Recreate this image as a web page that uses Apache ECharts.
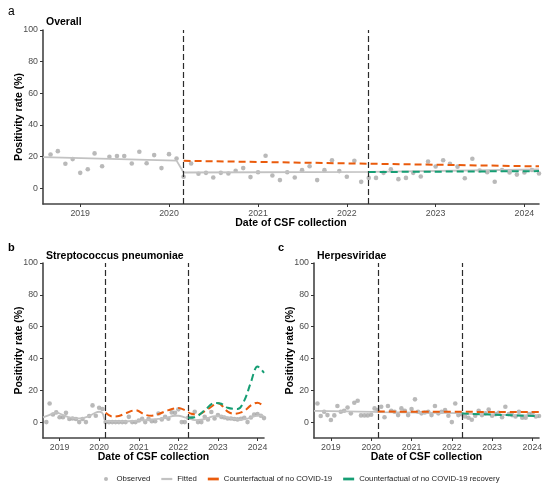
<!DOCTYPE html>
<html>
<head>
<meta charset="utf-8">
<script src="https://cdn.jsdelivr.net/npm/echarts@6/dist/echarts.min.js"></script>
<style>html,body{margin:0;padding:0;background:#fff;}#c{width:550px;height:485px;}</style>
</head>
<body>
<div id="c"></div>
<script>
// ---- data ----
const axisStart = '2018-08';
const axisEnd = '2024-03';
const interventions = ['2020-03', '2022-04'];
const yearTicks = [2019, 2020, 2021, 2022, 2023, 2024];
const yTicks = [0, 20, 40, 60, 80, 100];

// monthly observation dates 2018-09 .. 2024-03
const obsMonths = [];
for (let y = 2018, m = 9; ; m++) {
  if (m > 12) { m = 1; y++; }
  obsMonths.push(y + '-' + String(m).padStart(2, '0'));
  if (y === 2024 && m === 3) break;
}

const obsOverall = [
  21.3, 23.4, 15.4, 18.4,
  9.7, 12.0, 22.0, 13.9, 19.8, 20.3, 20.3, 15.6, 23.0, 15.8, 20.9, 12.7,
  21.5, 18.8, 7.2, 15.6, 9.1, 9.7, 6.8, 9.7, 9.3, 11.0, 12.7, 7.0,
  10.1, 20.5, 8.0, 5.1, 10.1, 6.8, 11.4, 13.9, 5.1, 11.4, 17.7, 10.8,
  7.2, 17.3, 4.0, 6.5, 6.5, 9.7, 12.0, 5.7, 6.5, 9.7, 7.4, 16.9,
  13.7, 17.7, 15.4, 13.6, 6.3, 18.6, 11.2, 10.1, 4.1, 11.5, 9.9, 8.6,
  9.9, 11.5, 9.3
];
const obsStrep = [
  0, 11.7, 4.8, 6.1,
  3.0, 3.0, 5.8, 1.9, 2.3, 1.9, 0, 1.9, 0, 3.8, 10.5, 4.0,
  9.0, 8.2, 0, 0, 0, 0, 0, 0, 0, 3.3, 0, 0,
  1.0, 2.0, 0, 2.0, 0.6, 0.6, 5.4, 1.7, 3.3, 2.1, 6.1, 5.8,
  8.0, 0, 0, 2.7, 2.7, 6.5, 0, 0, 3.3, 1.7, 6.3, 2.3,
  4.4, 3.3, 2.9, 2.3, 2.3, 1.9, 1.7, 2.1, 2.7, 0, 2.9, 4.8,
  5.0, 4.0, 2.5
];
const obsHerpes = [
  11.7, 3.8, 6.5, 4.4,
  1.3, 4.2, 10.1, 6.5, 7.1, 9.2, 5.5, 12.2, 13.4, 4.2, 4.2, 4.2,
  4.6, 8.6, 7.5, 9.6, 3.0, 10.1, 7.1, 6.5, 4.4, 8.6, 7.1, 4.4,
  8.2, 14.3, 6.5, 5.5, 6.0, 6.5, 4.4, 10.1, 5.5, 6.5, 7.5, 4.0,
  0, 11.7, 4.4, 5.0, 3.5, 2.7, 1.5, 4.0, 7.1, 4.4, 5.5, 7.9,
  4.0, 5.0, 5.9, 3.0, 9.6, 5.0, 4.4, 3.5, 6.5, 2.7, 2.7, 5.0,
  5.5, 3.5, 3.8
];

const fitOverall = [['2018-08', 19.6], ['2020-02', 17.4], ['2020-03', 9.9], ['2022-04', 10.3], ['2024-03', 11.8]];
const cfCovidOverall = [['2020-03', 17.3], ['2024-03', 13.8]];
const cfRecovOverall = [['2022-04', 10.2], ['2024-03', 10.8]];

const fitStrep = [['2018-08', 3.0], ['2018-10', 4.5], ['2018-12', 6.0], ['2019-02', 4.5], ['2019-04', 3.0], ['2019-06', 2.3],
  ['2019-08', 2.5], ['2019-10', 3.8], ['2019-12', 6.0], ['2020-01', 6.5], ['2020-02', 5.5], ['2020-03', 0.8],
  ['2020-06', 0.5], ['2020-09', 0.5], ['2020-12', 0.8], ['2021-03', 1.2], ['2021-06', 1.8], ['2021-09', 2.5],
  ['2021-12', 4.0], ['2022-01', 4.0], ['2022-03', 3.0], ['2022-04', 2.5], ['2022-06', 1.2], ['2022-08', 1.5],
  ['2022-10', 2.5], ['2022-12', 3.8], ['2023-02', 3.8], ['2023-04', 2.8], ['2023-06', 2.0], ['2023-08', 1.6],
  ['2023-10', 2.2], ['2023-12', 3.6], ['2024-02', 4.2], ['2024-03', 3.5]];
const cfCovidStrep = [['2020-03', 5.8], ['2020-05', 3.5], ['2020-07', 3.8], ['2020-09', 5.5], ['2020-12', 7.5], ['2021-03', 4.6],
  ['2021-05', 4.0], ['2021-07', 5.0], ['2021-10', 7.5], ['2022-01', 8.8], ['2022-03', 7.5], ['2022-05', 5.2],
  ['2022-07', 4.8], ['2022-10', 8.2], ['2023-01', 11.9], ['2023-04', 6.6], ['2023-06', 5.2], ['2023-09', 7.0],
  ['2023-11', 10.5], ['2024-01', 12.2], ['2024-03', 9.8]];
const cfRecovStrep = [['2022-04', 2.7], ['2022-06', 3.0], ['2022-09', 7.5], ['2022-12', 12.0], ['2023-02', 11.5], ['2023-04', 9.0],
  ['2023-07', 8.2], ['2023-09', 13.5], ['2023-11', 25.0], ['2024-01', 35.0], ['2024-03', 31.0]];

const fitHerpes = [['2018-08', 7.0], ['2020-02', 6.4], ['2020-03', 6.3], ['2022-03', 5.6], ['2022-04', 5.3], ['2024-03', 4.0]];
const cfCovidHerpes = [['2020-03', 6.6], ['2024-03', 6.3]];
const cfRecovHerpes = [['2022-04', 5.4], ['2024-03', 3.7]];

// ---- helpers ----
function ts(s) { const p = s.split('-'); return new Date(+p[0], +p[1] - 1, 1).getTime(); }
function pairs(arr) { return arr.map(d => [ts(d[0]), d[1]]); }

// ---- style ----
const FONT = 'Liberation Sans, Arial, sans-serif';
const C_OBS = '#a8a8a8', C_FIT = '#c2c2c2', C_COVID = '#EA5B0C', C_RECOV = '#169E74';
const NAMES = ['Observed', 'Fitted', 'Counterfactual of no COVID-19', 'Counterfactual of no COVID-19 recovery'];

const grids = [
  { left: 43, top: 30, width: 496, height: 174, outerBoundsMode: 'none', containLabel: false },
  { left: 43, top: 263, width: 221, height: 175, outerBoundsMode: 'none', containLabel: false },
  { left: 314, top: 263, width: 225, height: 175, outerBoundsMode: 'none', containLabel: false }
];
const yearStamps = yearTicks.map(y => new Date(y, 0, 1).getTime());

function xAxis(i) {
  return {
    type: 'value', gridIndex: i, min: ts(axisStart), max: ts(axisEnd),
    name: 'Date of CSF collection', nameLocation: 'middle', nameGap: 14, nameMoveOverlap: false,
    nameTextStyle: { fontFamily: FONT, fontSize: 10.5, fontWeight: 'bold', color: '#000' },
    axisLine: { onZero: false, lineStyle: { color: '#444', width: 1.6 } },
    axisTick: { show: true, length: 3, customValues: yearStamps, lineStyle: { color: '#333', width: 1 } },
    axisLabel: { customValues: yearStamps, margin: 5, fontFamily: FONT, fontSize: 8.8, color: '#4d4d4d',
      formatter: v => String(new Date(v).getFullYear()) },
    splitLine: { show: false }
  };
}
function yAxis(i) {
  return {
    type: 'value', gridIndex: i, min: -10, max: 100,
    name: 'Positivity rate (%)', nameLocation: 'middle', nameGap: 18, nameRotate: 90, nameMoveOverlap: false,
    nameTextStyle: { fontFamily: FONT, fontSize: 10.5, fontWeight: 'bold', color: '#000' },
    axisLine: { show: true, onZero: false, lineStyle: { color: '#444', width: 1.6 } },
    axisTick: { show: true, length: 3, customValues: yTicks, lineStyle: { color: '#333', width: 1 } },
    axisLabel: { customValues: yTicks, margin: 5, fontFamily: FONT, fontSize: 8.8, color: '#4d4d4d' },
    splitLine: { show: false }
  };
}

function panelSeries(i, obs, fit, cfc, cfr, smooth) {
  return [
    { name: NAMES[0], type: 'scatter', xAxisIndex: i, yAxisIndex: i, symbolSize: 4.6, z: 2,
      itemStyle: { color: C_OBS }, data: obsMonths.map((d, k) => [ts(d), obs[k]]),
      markLine: { silent: true, symbol: 'none', label: { show: false },
        lineStyle: { color: '#2b2b2b', type: [6, 3], width: 1.2 },
        data: interventions.map(d => ({ xAxis: ts(d) })) } },
    { name: NAMES[1], type: 'line', xAxisIndex: i, yAxisIndex: i, symbol: 'none', smooth: smooth, z: 3,
      itemStyle: { color: C_FIT }, lineStyle: { color: C_FIT, width: 1.8 }, data: pairs(fit) },
    { name: NAMES[2], type: 'line', xAxisIndex: i, yAxisIndex: i, symbol: 'none', smooth: smooth, z: 4,
      itemStyle: { color: C_COVID }, lineStyle: { color: C_COVID, width: 2, type: [7, 4] }, data: pairs(cfc) },
    { name: NAMES[3], type: 'line', xAxisIndex: i, yAxisIndex: i, symbol: 'none', smooth: smooth, z: 5,
      itemStyle: { color: C_RECOV }, lineStyle: { color: C_RECOV, width: 2, type: [7, 4] }, data: pairs(cfr) }
  ];
}

const titleStyle = { fontFamily: FONT, fontSize: 10.5, fontWeight: 'bold', color: '#000' };
const option = {
  animation: false,
  backgroundColor: '#fff',
  title: [
    { text: 'a', left: 3, top: 1, textStyle: { fontFamily: FONT, fontSize: 12, fontWeight: 'normal', color: '#000' } },
    { text: 'Overall', left: 41, top: 12, textStyle: titleStyle },
    { text: 'b', left: 3, top: 237, textStyle: { fontFamily: FONT, fontSize: 11, fontWeight: 'bold', color: '#000' } },
    { text: 'Streptococcus pneumoniae', left: 41, top: 246, textStyle: titleStyle },
    { text: 'c', left: 273, top: 237, textStyle: { fontFamily: FONT, fontSize: 11, fontWeight: 'bold', color: '#000' } },
    { text: 'Herpesviridae', left: 312, top: 246, textStyle: titleStyle }
  ],
  legend: {
    left: 99, top: 470, itemWidth: 11, itemHeight: 4, itemGap: 11,
    textStyle: { fontFamily: FONT, fontSize: 7.8, color: '#222' },
    data: [
      { name: NAMES[0], icon: 'circle' },
      { name: NAMES[1], icon: 'path://M0,0H10V2H0Z' },
      { name: NAMES[2], icon: 'path://M0,0H8V2H0Z' },
      { name: NAMES[3], icon: 'path://M0,0H8V2H0Z' }
    ]
  },
  grid: grids,
  xAxis: [xAxis(0), xAxis(1), xAxis(2)],
  yAxis: [yAxis(0), yAxis(1), yAxis(2)],
  series: [].concat(
    panelSeries(0, obsOverall, fitOverall, cfCovidOverall, cfRecovOverall, false),
    panelSeries(1, obsStrep, fitStrep, cfCovidStrep, cfRecovStrep, 0.35),
    panelSeries(2, obsHerpes, fitHerpes, cfCovidHerpes, cfRecovHerpes, false)
  )
};
const chart = echarts.init(document.getElementById('c'), null, { renderer: 'canvas' });
chart.setOption(option);
</script>
</body>
</html>
